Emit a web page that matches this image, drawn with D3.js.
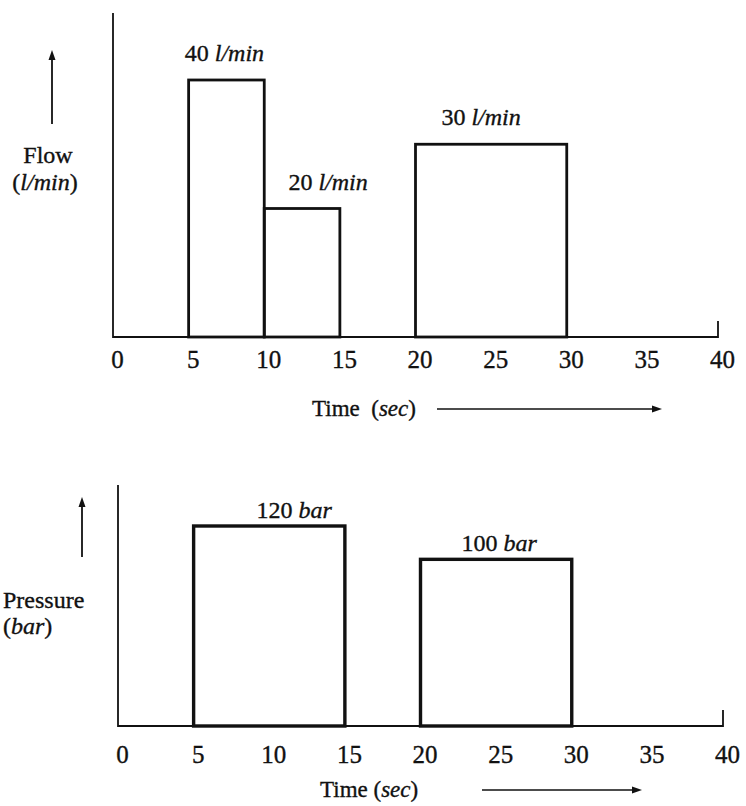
<!DOCTYPE html>
<html>
<head>
<meta charset="utf-8">
<script src="https://cdn.jsdelivr.net/npm/d3@7"></script>
<style>
  html, body { margin: 0; padding: 0; background: #fff; }
  svg { display: block; }
</style>
</head>
<body>
<svg id="chart" width="746" height="806"></svg>
<script>
// Time axis ticks (seconds)
const timeTicks = [0, 5, 10, 15, 20, 25, 30, 35, 40];

// Flow pulses: start time, end time, flow rate (l/min)
const flowStart = [5, 10, 20];
const flowEnd = [10, 15, 30];
const flowValues = [40, 20, 30];
const flowUnit = "l/min";

// Pressure pulses: start time, end time, pressure (bar)
const pressureStart = [5, 20];
const pressureEnd = [15, 30];
const pressureValues = [120, 100];
const pressureUnit = "bar";

const svg = d3.select("#chart");
const ink = "#111";
const serif = '"Liberation Serif"';

// serif text with a hairline outline so it reads like printed type
function styleText(sel, size) {
  return sel.attr("font-family", serif).attr("font-size", size)
    .attr("fill", ink).attr("stroke", ink).attr("stroke-width", 0.35);
}

function panel(cfg) {
  const g = svg.append("g");
  const x = d3.scaleLinear().domain([0, 40]).range([cfg.left, cfg.right]);
  const y = d3.scaleLinear().domain([0, cfg.yMax]).range([cfg.base, cfg.topAt]);

  // vertical axis line
  g.append("line")
    .attr("x1", x(0)).attr("x2", x(0))
    .attr("y1", cfg.axisTop).attr("y2", cfg.base + 1)
    .attr("stroke", ink).attr("stroke-width", 1.8);

  // time axis: tick labels only; the baseline with its end stop is drawn below
  const ax = g.append("g")
    .attr("transform", `translate(0,${cfg.base})`)
    .call(d3.axisBottom(x).tickValues(timeTicks).tickSize(0).tickPadding(cfg.tickPad)
      .tickFormat(d3.format("d")));
  ax.select(".domain").remove();
  styleText(ax.selectAll("text"), 25).attr("dx", 4);

  g.append("path")
    .attr("d", `M${x(0)},${cfg.base} H${x(40)} V${cfg.base - 16}`)
    .attr("fill", "none").attr("stroke", ink).attr("stroke-width", 1.8);

  // pulses
  const data = cfg.start.map((s, i) => ({ s, e: cfg.end[i], v: cfg.values[i], dx: cfg.labelDx[i] }));
  g.selectAll("rect.pulse").data(data).join("rect")
    .attr("class", "pulse")
    .attr("x", d => x(d.s)).attr("width", d => x(d.e) - x(d.s))
    .attr("y", d => y(d.v)).attr("height", d => y(0) - y(d.v))
    .attr("fill", "none").attr("stroke", ink).attr("stroke-width", cfg.barStroke);

  const lbl = styleText(g.selectAll("text.val").data(data).join("text"), 24)
    .attr("class", "val")
    .attr("x", d => (x(d.s) + x(d.e)) / 2 + d.dx)
    .attr("y", d => y(d.v) - cfg.labelGap)
    .attr("text-anchor", "middle");
  lbl.append("tspan").text(d => d.v + " ");
  lbl.append("tspan").attr("font-style", "italic").text(cfg.unit);

  // quantity label with rising arrow
  g.append("line")
    .attr("x1", cfg.arrowX).attr("x2", cfg.arrowX)
    .attr("y1", cfg.arrowBottom).attr("y2", cfg.arrowTip + 8)
    .attr("stroke", ink).attr("stroke-width", 1.8);
  g.append("path")
    .attr("d", `M${cfg.arrowX},${cfg.arrowTip} l-3.5,10 h7 z`)
    .attr("fill", ink);

  cfg.drawTitle(g);

  // time title with arrow to the right
  const tt = styleText(g.append("text"), 23)
    .attr("x", cfg.timeX).attr("y", cfg.timeY)
    .style("white-space", "pre");
  tt.append("tspan").text(cfg.timeGap ? "Time  (" : "Time (");
  tt.append("tspan").attr("font-style", "italic").text("sec");
  tt.append("tspan").text(")");
  g.append("line")
    .attr("x1", cfg.tArrowX1).attr("x2", cfg.tArrowX2 - 8)
    .attr("y1", cfg.tArrowY).attr("y2", cfg.tArrowY)
    .attr("stroke", ink).attr("stroke-width", 1.6);
  g.append("path")
    .attr("d", `M${cfg.tArrowX2},${cfg.tArrowY} l-10,-3.5 v7 z`)
    .attr("fill", ink);
}

// Flow vs time
panel({
  left: 113, right: 718, base: 337, topAt: 80, yMax: 40, axisTop: 13,
  tickPad: 13, barStroke: 2.8, labelGap: 19, labelDx: [-2, 26, -10],
  start: flowStart, end: flowEnd, values: flowValues, unit: flowUnit,
  arrowX: 52, arrowTip: 50, arrowBottom: 124,
  drawTitle: g => {
    styleText(g.append("text"), 24).attr("x", 48).attr("y", 163)
      .attr("text-anchor", "middle").text("Flow");
    const t = styleText(g.append("text"), 24).attr("x", 45).attr("y", 190)
      .attr("text-anchor", "middle");
    t.append("tspan").text("(");
    t.append("tspan").attr("font-style", "italic").text("l/min");
    t.append("tspan").text(")");
  },
  timeX: 312, timeY: 416, timeGap: true,
  tArrowX1: 437, tArrowX2: 662, tArrowY: 409
});

// Pressure vs time
panel({
  left: 118, right: 723, base: 726, topAt: 526, yMax: 120, axisTop: 485,
  tickPad: 19, barStroke: 3.4, labelGap: 8, labelDx: [25, 3],
  start: pressureStart, end: pressureEnd, values: pressureValues, unit: pressureUnit,
  arrowX: 82, arrowTip: 497, arrowBottom: 557,
  drawTitle: g => {
    styleText(g.append("text"), 24).attr("x", 3).attr("y", 608).text("Pressure");
    const t = styleText(g.append("text"), 24).attr("x", 3).attr("y", 634);
    t.append("tspan").text("(");
    t.append("tspan").attr("font-style", "italic").text("bar");
    t.append("tspan").text(")");
  },
  timeX: 320, timeY: 797, timeGap: false,
  tArrowX1: 482, tArrowX2: 642, tArrowY: 790
});
</script>
</body>
</html>
